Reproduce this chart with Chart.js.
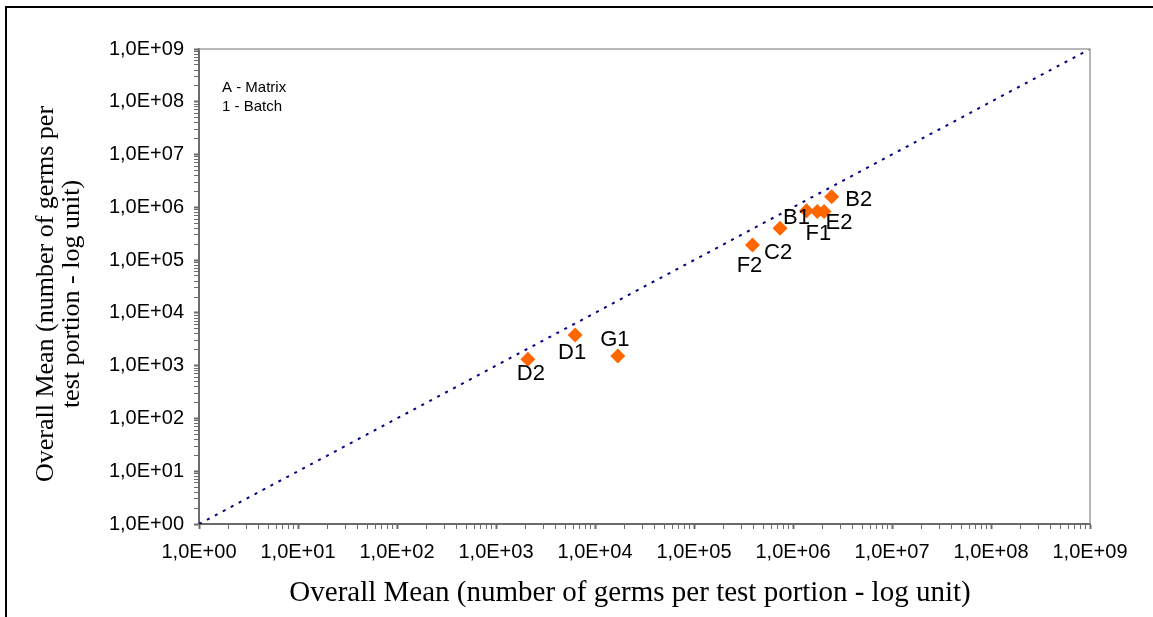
<!DOCTYPE html>
<html>
<head>
<meta charset="utf-8">
<script src="https://cdn.jsdelivr.net/npm/chart.js@4/dist/chart.umd.min.js"></script>
<style>
  html, body { margin: 0; padding: 0; background: #fff; }
  canvas { display: block; }
</style>
</head>
<body>
<canvas id="chart" width="1153" height="617"></canvas>
<script>
// Points: letter = matrix, number = batch
const pointNames = ['D2', 'D1', 'G1', 'F2', 'C2', 'B1', 'F1', 'E2', 'B2'];
const xMeans = [2.1e3, 6.3e3, 1.7e4, 3.9e5, 7.4e5, 1.37e6, 1.76e6, 2.06e6, 2.46e6];
const yMeans = [1.32e3, 3.8e3, 1.52e3, 1.93e5, 4.0e5, 8.6e5, 8.3e5, 8.3e5, 1.59e6];

// Reference line y = x
const refLineX = [1, 1e9];
const refLineY = [1, 1e9];

// Axis decades and their labels
const decadeTicks = [1, 1e1, 1e2, 1e3, 1e4, 1e5, 1e6, 1e7, 1e8, 1e9];
const decadeLabels = ['1,0E+00', '1,0E+01', '1,0E+02', '1,0E+03', '1,0E+04',
                      '1,0E+05', '1,0E+06', '1,0E+07', '1,0E+08', '1,0E+09'];

const legendLines = ['A - Matrix', '1 - Batch'];
const xTitle = 'Overall Mean (number of germs per test portion - log unit)';
const yTitle = ['Overall Mean (number of germs per', 'test portion - log unit)'];

// where each point label sits relative to its marker (px)
const labelOffsets = {
    D2: [3, 15], D1: [-3, 18], G1: [-3, -16], F2: [-3, 21], C2: [-2, 25],
    B1: [-10, 7], F1: [1, 22], E2: [15, 11], B2: [27, 3]
};

// minor ticks 2..9 inside each decade
const allTicks = [];
decadeTicks.forEach((d, i) => {
    allTicks.push(d);
    if (i < decadeTicks.length - 1) {
        for (let k = 2; k <= 9; k++) allTicks.push(k * d);
    }
});

const axisGray = '#6b6b6b';
const sans = 'Liberation Sans, Arial, sans-serif';
const serif = 'Liberation Serif, Times New Roman, serif';

function logAxis(extra, pad) {
    return Object.assign({
        type: 'logarithmic',
        min: 1,
        max: 1e9,
        afterBuildTicks: s => { s.ticks = allTicks.map(v => ({ value: v })); },
        grid: {
            display: true,
            drawOnChartArea: false,
            drawTicks: true,
            tickLength: 5,
            tickColor: axisGray,
            tickWidth: c => (c.tick && decadeTicks.includes(c.tick.value)) ? 2 : 1
        },
        border: { display: true, color: axisGray, width: 2 },
        ticks: {
            autoSkip: false,
            maxRotation: 0,
            minRotation: 0,
            padding: pad,
            color: '#000',
            font: { family: sans, size: 20 },
            callback: v => {
                const i = decadeTicks.indexOf(v);
                return i >= 0 ? decadeLabels[i] : '';
            }
        }
    }, extra);
}

const decorations = {
    id: 'decorations',
    beforeDraw(chart) {
        const ctx = chart.ctx;
        ctx.save();
        ctx.fillStyle = '#fff';
        ctx.fillRect(0, 0, chart.width, chart.height);
        ctx.restore();
    },
    afterDatasetsDraw(chart) {
        const ctx = chart.ctx;
        const meta = chart.getDatasetMeta(1);
        ctx.save();
        ctx.fillStyle = '#000';
        ctx.font = '22px ' + sans;
        ctx.textAlign = 'center';
        ctx.textBaseline = 'middle';
        meta.data.forEach((pt, i) => {
            const name = pointNames[i];
            const off = labelOffsets[name] || [0, 0];
            ctx.fillText(name, pt.x + off[0], pt.y + off[1]);
        });
        ctx.restore();
    },
    afterDraw(chart) {
        const { ctx, chartArea: a } = chart;
        ctx.save();

        // outer frame (top + left only)
        ctx.strokeStyle = '#000';
        ctx.lineWidth = 2;
        ctx.beginPath();
        ctx.moveTo(6, chart.height);
        ctx.lineTo(6, 7);
        ctx.lineTo(chart.width, 7);
        ctx.stroke();

        // plot area top/right border
        ctx.strokeStyle = '#a0a0a0';
        ctx.lineWidth = 1.5;
        ctx.beginPath();
        ctx.moveTo(a.left, a.top);
        ctx.lineTo(a.right, a.top);
        ctx.lineTo(a.right, a.bottom);
        ctx.stroke();

        // matrix / batch note
        ctx.fillStyle = '#000';
        ctx.font = '15px ' + sans;
        ctx.textAlign = 'left';
        ctx.textBaseline = 'middle';
        legendLines.forEach((t, i) => ctx.fillText(t, a.left + 23, a.top + 39 + i * 19));

        // axis titles
        ctx.font = '29px ' + serif;
        ctx.textAlign = 'center';
        ctx.textBaseline = 'alphabetic';
        ctx.fillText(xTitle, 630, 601);

        ctx.font = '26px ' + serif;
        ctx.textBaseline = 'middle';
        yTitle.forEach((t, i) => {
            ctx.save();
            ctx.translate(46 + i * 26, 294);
            ctx.rotate(-Math.PI / 2);
            ctx.fillText(t, 0, 0);
            ctx.restore();
        });

        ctx.restore();
    }
};

new Chart(document.getElementById('chart'), {
    type: 'scatter',
    data: {
        datasets: [
            {
                type: 'line',
                data: refLineX.map((x, i) => ({ x, y: refLineY[i] })),
                borderColor: '#000080',
                borderWidth: 2,
                borderDash: [3, 6],
                pointRadius: 0,
                fill: false,
                order: 2
            },
            {
                data: xMeans.map((x, i) => ({ x, y: yMeans[i] })),
                pointStyle: 'rectRot',
                pointRadius: 7.5,
                backgroundColor: '#ff6600',
                borderColor: '#ff6600',
                borderWidth: 0,
                order: 1
            }
        ]
    },
    options: {
        responsive: false,
        animation: false,
        layout: { padding: { left: 0, top: 49, right: 63, bottom: 0 } },
        plugins: { legend: { display: false }, tooltip: { enabled: false } },
        scales: {
            x: logAxis({ position: 'bottom', afterFit: s => { s.height = 93; } }, 11),
            y: logAxis({ position: 'left', afterFit: s => { s.width = 199; } }, 10)
        }
    },
    plugins: [decorations]
});
</script>
</body>
</html>
